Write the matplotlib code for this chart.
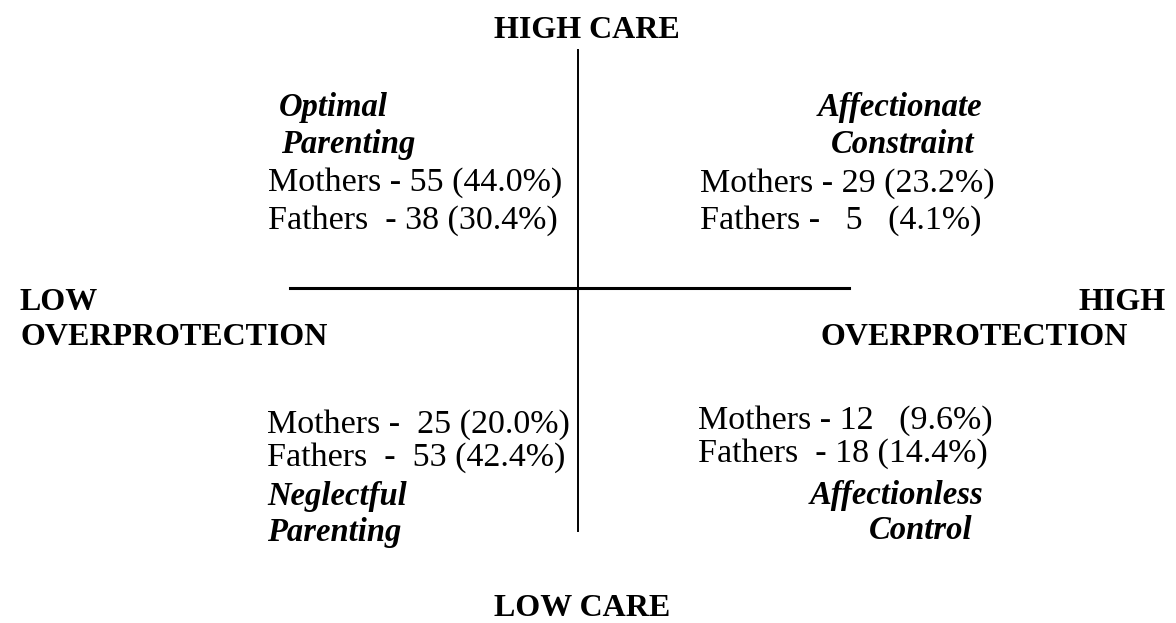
import matplotlib
matplotlib.use("Agg")
import matplotlib.pyplot as plt

# ================= DATA =================
quadrant_names = [
    ["Optimal", "Parenting"],
    ["Affectionate", "Constraint"],
    ["Neglectful", "Parenting"],
    ["Affectionless", "Control"],
]
mothers_n = [55, 29, 25, 12]
mothers_pct = [44.0, 23.2, 20.0, 9.6]
fathers_n = [38, 5, 53, 18]
fathers_pct = [30.4, 4.1, 42.4, 14.4]

axis_top = "HIGH CARE"
axis_bottom = "LOW CARE"
axis_left = ["LOW", "OVERPROTECTION"]
axis_right = ["HIGH", "OVERPROTECTION"]

# spacing as in the original typed table
mother_fmt = ["Mothers - {n} ({p:.1f}%)", "Mothers - {n} ({p:.1f}%)",
              "Mothers -  {n} ({p:.1f}%)", "Mothers - {n}   ({p:.1f}%)"]
father_fmt = ["Fathers  - {n} ({p:.1f}%)", "Fathers -   {n}   ({p:.1f}%)",
              "Fathers  -  {n} ({p:.1f}%)", "Fathers  - {n} ({p:.1f}%)"]

# ================= LAYOUT (pixels) =================
W, H = 1176, 623
SERIF = ["Liberation Serif", "DejaVu Serif"]
HEAD_FS = 23
BODY_FS = 24.5
NAME_FS = 23.5

fig = plt.figure(figsize=(W / 100, H / 100), dpi=100)
ax = fig.add_axes([0, 0, 1, 1])
ax.set_xlim(0, W)
ax.set_ylim(H, 0)
ax.axis("off")

# cross
ax.plot([578, 578], [50, 531], color="black", lw=1.4)
ax.plot([290, 849], [288, 288], color="black", lw=2.2)

def head(x, y, s, ha="left"):
    ax.text(x, y, s, ha=ha, va="baseline", fontsize=HEAD_FS,
            fontweight="bold", family=SERIF)

def body(x, y, s, ha="left"):
    ax.text(x, y, s, ha=ha, va="baseline", fontsize=BODY_FS, family=SERIF)

def name(x, y, s, ha="left"):
    ax.text(x, y, s, ha=ha, va="baseline", fontsize=NAME_FS, family=SERIF,
            fontweight="bold", style="italic")

head(587, 38, axis_top, ha="center")
head(582, 616, axis_bottom, ha="center")
head(20, 310, axis_left[0])
head(20, 345, axis_left[1])
head(1166, 310, axis_right[0], ha="right")
head(821, 345, axis_right[1])

# top-left
name(279, 116, quadrant_names[0][0])
name(281, 153, quadrant_names[0][1])
body(268, 191, mother_fmt[0].format(n=mothers_n[0], p=mothers_pct[0]))
body(268, 229, father_fmt[0].format(n=fathers_n[0], p=fathers_pct[0]))

# top-right
name(982, 116, quadrant_names[1][0], ha="right")
name(975, 153, quadrant_names[1][1], ha="right")
body(700, 192, mother_fmt[1].format(n=mothers_n[1], p=mothers_pct[1]))
body(700, 229, father_fmt[1].format(n=fathers_n[1], p=fathers_pct[1]))

# bottom-left
body(267, 433, mother_fmt[2].format(n=mothers_n[2], p=mothers_pct[2]))
body(267, 466, father_fmt[2].format(n=fathers_n[2], p=fathers_pct[2]))
name(267, 505, quadrant_names[2][0])
name(267, 541, quadrant_names[2][1])

# bottom-right
body(698, 429, mother_fmt[3].format(n=mothers_n[3], p=mothers_pct[3]))
body(698, 462, father_fmt[3].format(n=fathers_n[3], p=fathers_pct[3]))
name(983, 504, quadrant_names[3][0], ha="right")
name(973, 539, quadrant_names[3][1], ha="right")

fig.savefig("out.png", dpi=100, facecolor="white")
